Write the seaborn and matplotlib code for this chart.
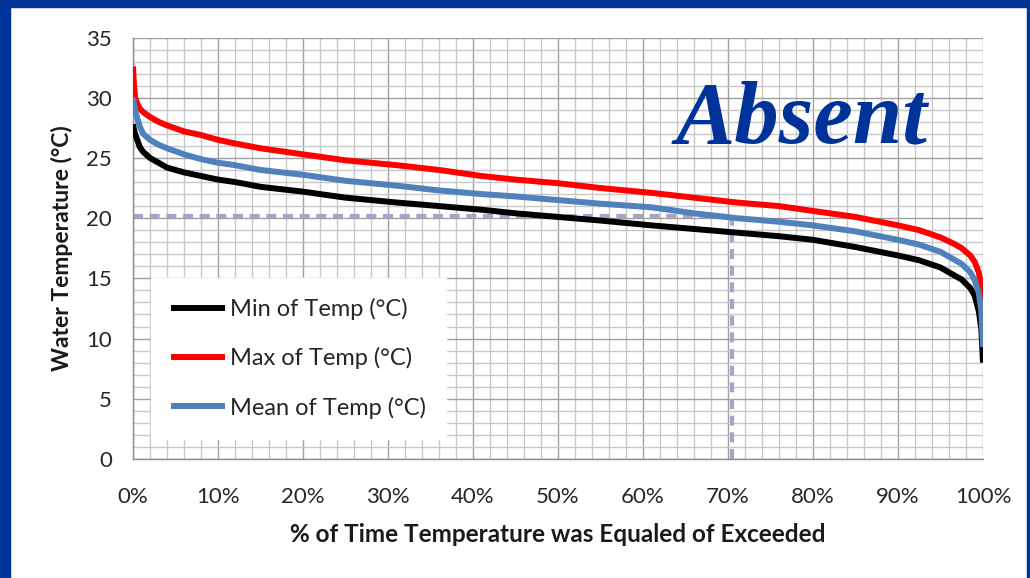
import matplotlib
matplotlib.use("Agg")
import matplotlib.pyplot as plt
import matplotlib.patches as mpatches
from matplotlib.ticker import MultipleLocator, PercentFormatter
import seaborn as sns
import pandas as pd

# ---------------- data ----------------
pct_time = [0, 0.1, 0.25, 0.5, 0.8, 1.2, 2, 3, 4, 6, 8, 10, 12, 15, 20, 25, 31, 36, 41, 45,
            50, 55, 61, 66, 71, 76, 80, 85, 90, 92.5, 95, 96.5, 97.5, 98.5, 99, 99.5, 99.8, 100]
min_temp = [27.8, 27.4, 27.0, 26.5, 25.9, 25.5, 25.0, 24.6, 24.2, 23.8, 23.5, 23.2, 23.0, 22.6,
            22.2, 21.7, 21.3, 21.0, 20.7, 20.4, 20.1, 19.8, 19.4, 19.1, 18.8, 18.5, 18.2, 17.6,
            16.9, 16.5, 15.9, 15.3, 14.9, 14.2, 13.6, 12.3, 10.8, 8.0]
max_temp = [32.6, 31.2, 30.0, 29.5, 29.1, 28.8, 28.4, 28.0, 27.7, 27.2, 26.9, 26.5, 26.2, 25.8,
            25.3, 24.8, 24.4, 24.0, 23.5, 23.2, 22.9, 22.5, 22.1, 21.7, 21.3, 21.0, 20.6, 20.1,
            19.4, 19.0, 18.4, 17.9, 17.5, 16.9, 16.4, 15.5, 14.4, 12.4]
mean_temp = [30.0, 29.6, 29.0, 28.3, 27.6, 27.0, 26.5, 26.1, 25.8, 25.3, 24.9, 24.6, 24.4, 24.0,
             23.6, 23.1, 22.7, 22.3, 22.0, 21.8, 21.5, 21.2, 20.9, 20.4, 20.0, 19.7, 19.4, 18.9,
             18.2, 17.8, 17.2, 16.6, 16.2, 15.5, 14.9, 13.8, 12.3, 9.3]

series_names = ["Min of Temp (°C)", "Max of Temp (°C)", "Mean of Temp (°C)"]
series_colors = ["#000000", "#ff0000", "#4f81bd"]

ref_pct = 70.5      # dashed reference: % of time
ref_temp = 20.2     # dashed reference: temperature

x_ticks = [0, 10, 20, 30, 40, 50, 60, 70, 80, 90, 100]
y_ticks = [0, 5, 10, 15, 20, 25, 30, 35]

x_label = "% of Time Temperature was Equaled of Exceeded"
y_label = "Water Temperature (°C)"
stamp = "Absent"

# ---------------- build table ----------------
frames = []
for name, vals in zip(series_names, [min_temp, max_temp, mean_temp]):
    frames.append(pd.DataFrame({"pct": pct_time, "temp": vals, "series": name}))
df = pd.concat(frames, ignore_index=True)

# ---------------- figure ----------------
sns.set_theme(style="white")
plt.rcParams["font.family"] = ["Lato", "DejaVu Sans"]

W, H = 1030, 578
fig = plt.figure(figsize=(W / 100, H / 100), dpi=100)
fig.patch.set_facecolor("white")

frame_col = "#003399"
fig.patches.append(mpatches.Rectangle((0, 1 - 7 / H), 1, 7 / H, transform=fig.transFigure,
                                      color=frame_col, zorder=0))
fig.patches.append(mpatches.Rectangle((0, 0), 10 / W, 1, transform=fig.transFigure,
                                      color=frame_col, zorder=0))
fig.patches.append(mpatches.Rectangle((1 - 3 / W, 0), 3 / W, 1, transform=fig.transFigure,
                                      color=frame_col, zorder=0))

left, right = 133 / W, 983 / W
bottom, top = 1 - 459 / H, 1 - 37.5 / H
ax = fig.add_axes([left, bottom, right - left, top - bottom])
ax.set_facecolor("white")

sns.lineplot(data=df, x="pct", y="temp", hue="series", hue_order=series_names,
             palette=series_colors, linewidth=4.3, sort=False, estimator=None,
             ax=ax, zorder=3)
for ln in ax.get_lines():
    ln.set_solid_joinstyle("round")
    ln.set_solid_capstyle("butt")

# dashed reference lines
ref_col = "#a5a5c8"
ax.hlines(ref_temp, 0, ref_pct, colors=ref_col, linestyles=(0, (2.4, 1.6)), linewidth=3, zorder=2)
ax.vlines(ref_pct, 0, ref_temp, colors=ref_col, linestyles=(0, (2.4, 1.6)), linewidth=3, zorder=2)

ax.set_xlim(0, 100)
ax.set_ylim(0, 35)
ax.xaxis.set_minor_locator(MultipleLocator(2))
ax.yaxis.set_minor_locator(MultipleLocator(1))
ax.set_xticks(x_ticks)
ax.set_yticks(y_ticks)
ax.xaxis.set_major_formatter(PercentFormatter(decimals=0))

ax.grid(which="minor", color="#c8c8c8", linewidth=1.0)
ax.grid(which="major", color="#a0a0a0", linewidth=1.0)
ax.set_axisbelow(True)

for s in ["top", "right"]:
    ax.spines[s].set_visible(False)
for s in ["left", "bottom"]:
    ax.spines[s].set_color("#8c8c8c")
    ax.spines[s].set_linewidth(1.0)

ax.tick_params(axis="both", which="major", direction="out", length=6, width=1.0,
               color="#8c8c8c", labelsize=16, labelcolor="#262626")
ax.tick_params(axis="x", which="major", pad=14)
ax.tick_params(axis="y", which="major", pad=9)
ax.tick_params(which="minor", length=0)

ax.set_xlabel(x_label, fontsize=17.5, fontweight="bold", color="#1a1a1a")
ax.set_ylabel(y_label, fontsize=16.5, fontweight="bold", color="#1a1a1a")
ax.xaxis.label.set_va("center")
ax.yaxis.label.set_va("center")
ax_w, ax_h = right * W - left * W, (top - bottom) * H
ax.xaxis.set_label_coords(0.5, (459 - 535) / ax_h)
ax.yaxis.set_label_coords((62 - 133) / ax_w, 0.5)

leg = ax.legend(loc="upper left", bbox_to_anchor=(151 / W, 1 - 278 / H),
                bbox_transform=fig.transFigure, frameon=True, fancybox=False,
                fontsize=17, handlelength=2.3, handletextpad=0.2, labelspacing=1.15,
                borderpad=0.85, borderaxespad=0)
leg.get_frame().set_facecolor("white")
leg.get_frame().set_edgecolor("white")
leg.get_frame().set_alpha(1.0)
for t in leg.get_texts():
    t.set_color("#262626")
for l in leg.get_lines():
    l.set_linewidth(4.3)

ax.text(802 / W, 1 - 142 / H, stamp, transform=fig.transFigure, ha="center", va="baseline",
        fontsize=64, fontweight="bold", fontstyle="italic", color="#003399",
        family=["Liberation Serif", "DejaVu Serif"], zorder=5)

fig.savefig("out.png", dpi=100, facecolor="white")
